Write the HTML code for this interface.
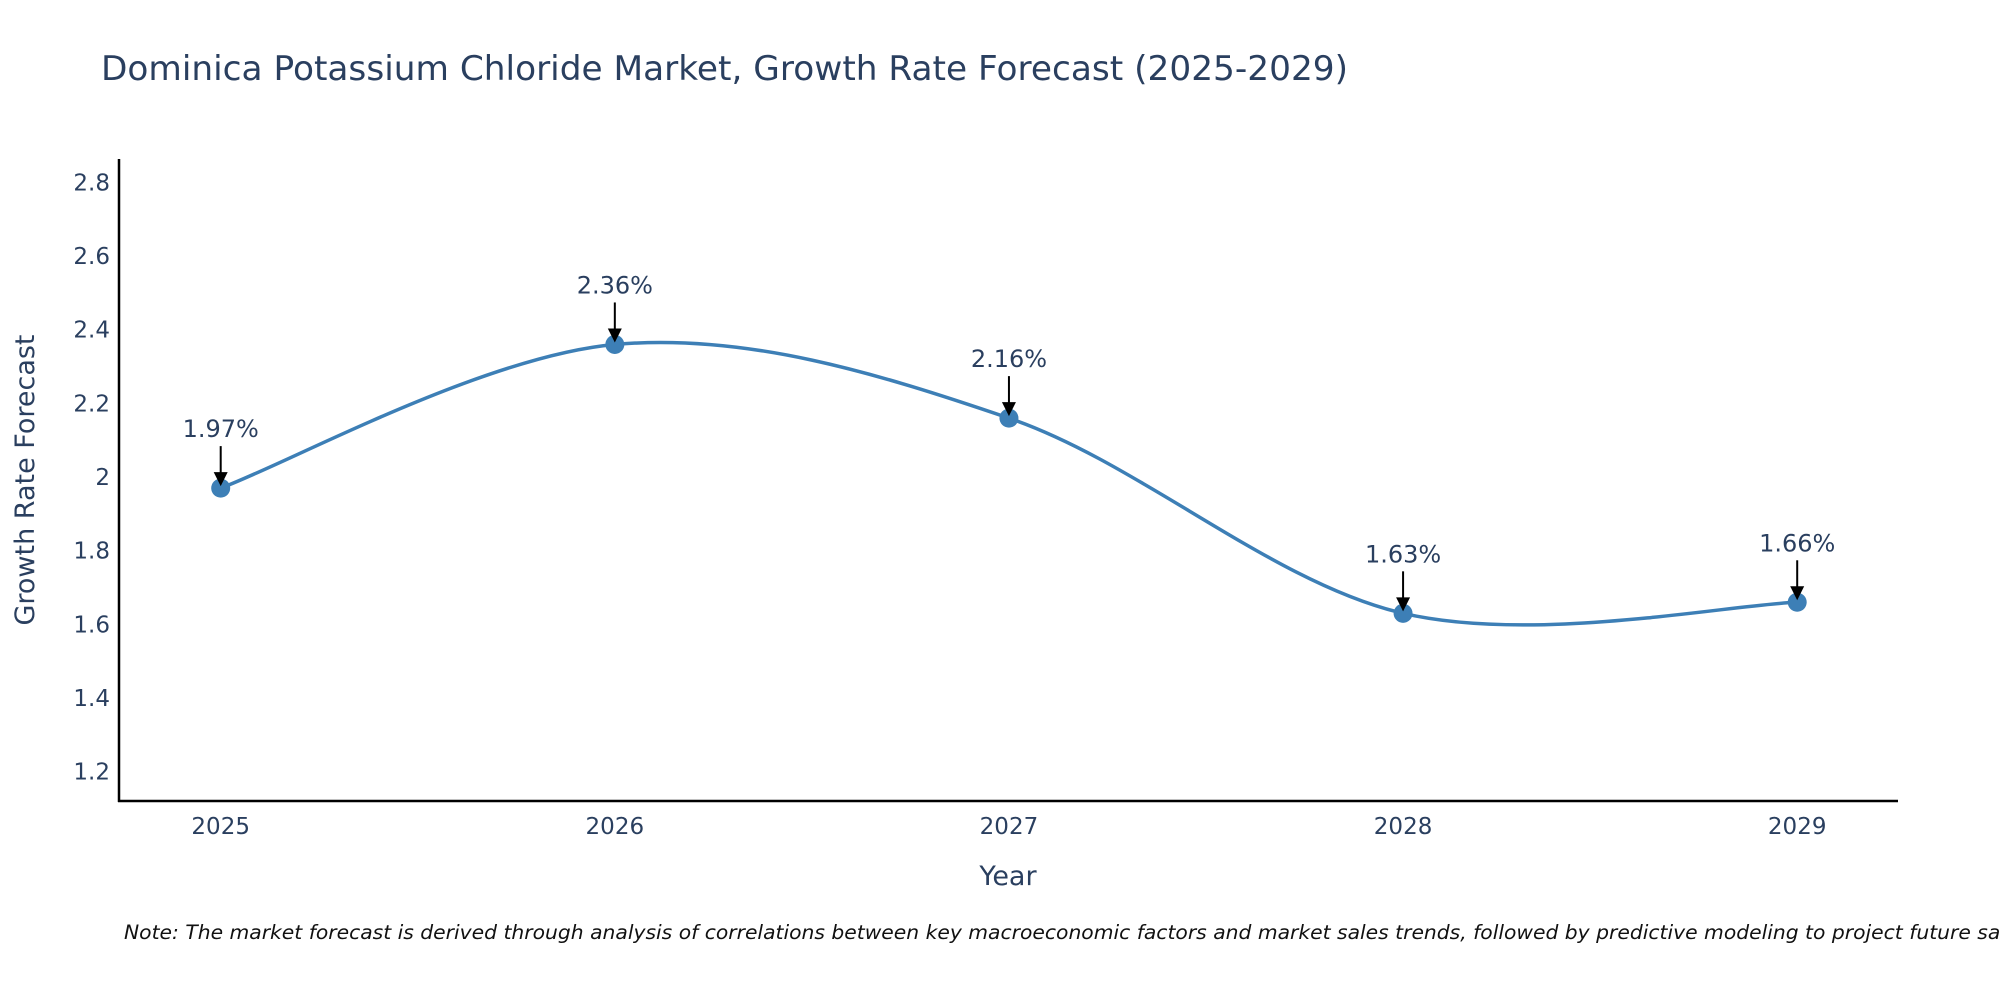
<!DOCTYPE html>
<html><head><meta charset="utf-8"><style>
html,body{margin:0;padding:0;background:#fff;overflow:hidden;}
svg{display:block;font-family:"DejaVu Sans","Liberation Sans",sans-serif;}
</style></head><body>
<svg id="chart" width="2000" height="1000" viewBox="0 0 2000 1000">
<text x="101" y="80" font-size="34" fill="#2a3f5f" textLength="1247" lengthAdjust="spacingAndGlyphs">Dominica Potassium Chloride Market, Growth Rate Forecast (2025-2029)</text>
<g id="yticks"></g>
<g id="xticks"></g>
<line x1="119" y1="159" x2="119" y2="802" stroke="#000" stroke-width="2.5"/>
<line x1="118" y1="801" x2="1898" y2="801" stroke="#000" stroke-width="2.5"/>
<text x="1008" y="885" font-size="27" fill="#2a3f5f" text-anchor="middle">Year</text>
<text transform="translate(34,480) rotate(-90)" font-size="27" fill="#2a3f5f" text-anchor="middle">Growth Rate Forecast</text>
<path id="line" fill="none" stroke="#3d7fb6" stroke-width="3.5"/>
<g id="points"></g>
<g id="annots"></g>
<text x="124" y="939" font-size="19.5" font-style="italic" fill="#111" textLength="1905" lengthAdjust="spacingAndGlyphs">Note: The market forecast is derived through analysis of correlations between key macroeconomic factors and market sales trends, followed by predictive modeling to project future sales</text>
</svg>
<script>
const years = [2025, 2026, 2027, 2028, 2029];
const values = [1.97, 2.36, 2.16, 1.63, 1.66];
const valueLabels = ["1.97%", "2.36%", "2.16%", "1.63%", "1.66%"];
const yTickValues = [1.2, 1.4, 1.6, 1.8, 2, 2.2, 2.4, 2.6, 2.8];
const yTickLabels = ["1.2", "1.4", "1.6", "1.8", "2", "2.2", "2.4", "2.6", "2.8"];

const NS = "http://www.w3.org/2000/svg";
function xS(yr){ return 220.7 + (yr - 2025) * (1797.2 - 220.7) / 4; }
function yS(v){ return 771.7 - (v - 1.2) * (771.7 - 182.4) / 1.6; }
function mk(tag, attrs, parent){ const e=document.createElementNS(NS,tag); for(const k in attrs) e.setAttribute(k,attrs[k]); parent.appendChild(e); return e; }

const yt=document.getElementById('yticks');
yTickValues.forEach((v,i)=>{
  const t=mk('text',{x:110,y:yS(v)+8,'font-size':23,fill:'#2a3f5f','text-anchor':'end'},yt);
  
  
  t.textContent=yTickLabels[i];
});
const xt=document.getElementById('xticks');
years.forEach(yr=>{
  const t=mk('text',{x:xS(yr),y:834,'font-size':23,fill:'#2a3f5f','text-anchor':'middle'},xt);
  
  
  t.textContent=String(yr);
});

const pts=years.map((yr,i)=>[xS(yr),yS(values[i])]);
let d='M'+pts[0][0]+','+pts[0][1];
for(let i=0;i<pts.length-1;i++){
  const p0=pts[Math.max(0,i-1)],p1=pts[i],p2=pts[i+1],p3=pts[Math.min(pts.length-1,i+2)];
  const c1=[p1[0]+(p2[0]-p0[0])/6,p1[1]+(p2[1]-p0[1])/6];
  const c2=[p2[0]-(p3[0]-p1[0])/6,p2[1]-(p3[1]-p1[1])/6];
  d+=' C'+c1[0]+','+c1[1]+' '+c2[0]+','+c2[1]+' '+p2[0]+','+p2[1];
}
document.getElementById('line').setAttribute('d',d);

const pg=document.getElementById('points');
const ag=document.getElementById('annots');
pts.forEach((p,i)=>{
  const c=mk('circle',{cx:p[0],cy:p[1],r:9.5,fill:'#3d7fb6'},pg);
  
  
  const l=mk('line',{x1:p[0],y1:p[1]-42,x2:p[0],y2:p[1]-12,stroke:'#000','stroke-width':2},ag);
  
  
  const h=mk('polygon',{points:(p[0]-7)+','+(p[1]-16)+' '+(p[0]+7)+','+(p[1]-16)+' '+p[0]+','+(p[1]-2),fill:'#000'},ag);
  
  
  const t=mk('text',{x:p[0],y:p[1]-51,'font-size':24,fill:'#2a3f5f','text-anchor':'middle'},ag);
  
  
  t.textContent=valueLabels[i];
});
</script>
</body></html>
